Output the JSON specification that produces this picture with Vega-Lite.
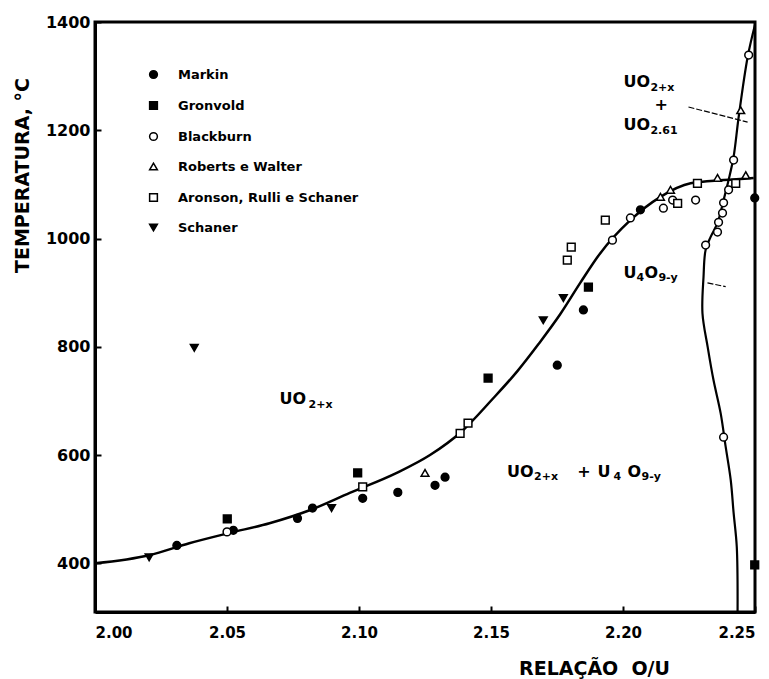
{
  "$schema": "https://vega.github.io/schema/vega-lite/v6.json",
  "width": 660,
  "height": 590,
  "autosize": {"type": "none"},
  "padding": {"left": 95, "top": 22, "right": 14, "bottom": 67},
  "background": "white",
  "config": {
    "view": {"stroke": "black", "strokeWidth": 3},
    "font": "DejaVu Sans",
    "axis": {
      "grid": false,
      "domainColor": "black",
      "domainWidth": 3,
      "tickColor": "black",
      "tickWidth": 2,
      "labelColor": "black",
      "labelFont": "DejaVu Sans",
      "labelFontWeight": "bold",
      "titleColor": "black",
      "titleFont": "DejaVu Sans",
      "titleFontWeight": "bold"
    },
    "legend": {
      "labelFont": "DejaVu Sans",
      "labelFontWeight": "bold",
      "labelColor": "black"
    }
  },
  "datasets": {
    "solvus": [
      {"x": 2.000, "y": 400},
      {"x": 2.0205, "y": 415},
      {"x": 2.0357, "y": 437},
      {"x": 2.0509, "y": 456},
      {"x": 2.0661, "y": 474},
      {"x": 2.0813, "y": 498},
      {"x": 2.0965, "y": 530},
      {"x": 2.1143, "y": 567},
      {"x": 2.1269, "y": 600},
      {"x": 2.1390, "y": 644},
      {"x": 2.1505, "y": 703},
      {"x": 2.1600, "y": 755},
      {"x": 2.1680, "y": 805},
      {"x": 2.1762, "y": 860},
      {"x": 2.1838, "y": 918},
      {"x": 2.1914, "y": 973},
      {"x": 2.2028, "y": 1034},
      {"x": 2.2142, "y": 1077},
      {"x": 2.2256, "y": 1102},
      {"x": 2.2381, "y": 1108},
      {"x": 2.2495, "y": 1112}
    ],
    "u4o9": [
      {"x": 2.2500, "y": 1395},
      {"x": 2.2472, "y": 1335},
      {"x": 2.2438, "y": 1224},
      {"x": 2.2419, "y": 1151},
      {"x": 2.2400, "y": 1108},
      {"x": 2.2381, "y": 1071},
      {"x": 2.2358, "y": 1029},
      {"x": 2.2332, "y": 1003},
      {"x": 2.2313, "y": 979},
      {"x": 2.2305, "y": 929},
      {"x": 2.2301, "y": 862},
      {"x": 2.2321, "y": 799},
      {"x": 2.2343, "y": 738},
      {"x": 2.2370, "y": 677},
      {"x": 2.2389, "y": 615},
      {"x": 2.2408, "y": 554},
      {"x": 2.2419, "y": 493},
      {"x": 2.2431, "y": 430},
      {"x": 2.2434, "y": 310}
    ],
    "guias": [
      {"linha": "a", "x": 2.2248, "y": 1243},
      {"linha": "a", "x": 2.2472, "y": 1215},
      {"linha": "b", "x": 2.2320, "y": 918},
      {"linha": "b", "x": 2.2389, "y": 911}
    ],
    "pontos": [
      {"fonte": "Markin", "x": 2.031, "y": 433},
      {"fonte": "Markin", "x": 2.0524, "y": 461},
      {"fonte": "Markin", "x": 2.0767, "y": 483},
      {"fonte": "Markin", "x": 2.0824, "y": 502},
      {"fonte": "Markin", "x": 2.1014, "y": 520},
      {"fonte": "Markin", "x": 2.1147, "y": 531},
      {"fonte": "Markin", "x": 2.1288, "y": 544},
      {"fonte": "Markin", "x": 2.1326, "y": 559},
      {"fonte": "Markin", "x": 2.1751, "y": 766},
      {"fonte": "Markin", "x": 2.1850, "y": 868},
      {"fonte": "Markin", "x": 2.2066, "y": 1053},
      {"fonte": "Markin", "x": 2.2499, "y": 1075},
      {"fonte": "Gronvold", "x": 2.0501, "y": 482},
      {"fonte": "Gronvold", "x": 2.0995, "y": 567},
      {"fonte": "Gronvold", "x": 2.1489, "y": 742},
      {"fonte": "Gronvold", "x": 2.1869, "y": 910},
      {"fonte": "Gronvold", "x": 2.2499, "y": 397},
      {"fonte": "Blackburn", "x": 2.0500, "y": 458},
      {"fonte": "Blackburn", "x": 2.1960, "y": 997},
      {"fonte": "Blackburn", "x": 2.2028, "y": 1038},
      {"fonte": "Blackburn", "x": 2.2153, "y": 1056},
      {"fonte": "Blackburn", "x": 2.2188, "y": 1071},
      {"fonte": "Blackburn", "x": 2.2275, "y": 1071},
      {"fonte": "Blackburn", "x": 2.2400, "y": 1090},
      {"fonte": "Blackburn", "x": 2.2381, "y": 1066},
      {"fonte": "Blackburn", "x": 2.2377, "y": 1047},
      {"fonte": "Blackburn", "x": 2.2362, "y": 1030},
      {"fonte": "Blackburn", "x": 2.2358, "y": 1012},
      {"fonte": "Blackburn", "x": 2.2313, "y": 988},
      {"fonte": "Blackburn", "x": 2.2419, "y": 1145},
      {"fonte": "Blackburn", "x": 2.2476, "y": 1339},
      {"fonte": "Blackburn", "x": 2.2381, "y": 633},
      {"fonte": "Roberts e Walter", "x": 2.1250, "y": 567},
      {"fonte": "Roberts e Walter", "x": 2.2142, "y": 1077},
      {"fonte": "Roberts e Walter", "x": 2.2180, "y": 1090},
      {"fonte": "Roberts e Walter", "x": 2.2358, "y": 1112},
      {"fonte": "Roberts e Walter", "x": 2.2465, "y": 1117},
      {"fonte": "Roberts e Walter", "x": 2.2446, "y": 1237},
      {"fonte": "Aronson, Rulli e Schaner", "x": 2.1014, "y": 541},
      {"fonte": "Aronson, Rulli e Schaner", "x": 2.1383, "y": 640},
      {"fonte": "Aronson, Rulli e Schaner", "x": 2.1413, "y": 659},
      {"fonte": "Aronson, Rulli e Schaner", "x": 2.1789, "y": 960},
      {"fonte": "Aronson, Rulli e Schaner", "x": 2.1804, "y": 984},
      {"fonte": "Aronson, Rulli e Schaner", "x": 2.1933, "y": 1034},
      {"fonte": "Aronson, Rulli e Schaner", "x": 2.2207, "y": 1065},
      {"fonte": "Aronson, Rulli e Schaner", "x": 2.2282, "y": 1102},
      {"fonte": "Aronson, Rulli e Schaner", "x": 2.2427, "y": 1102},
      {"fonte": "Schaner", "x": 2.0205, "y": 411},
      {"fonte": "Schaner", "x": 2.0896, "y": 502},
      {"fonte": "Schaner", "x": 2.1698, "y": 849},
      {"fonte": "Schaner", "x": 2.1774, "y": 890},
      {"fonte": "Schaner", "x": 2.0376, "y": 798}
    ],
    "rotulos": [
      {"texto": "UO", "x": 2.0699, "y": 703},
      {"texto": "UO", "x": 2.1561, "y": 568},
      {"texto": "+", "x": 2.1827, "y": 568},
      {"texto": "U", "x": 2.1903, "y": 568},
      {"texto": "O", "x": 2.2017, "y": 568},
      {"texto": "UO", "x": 2.2002, "y": 1289},
      {"texto": "+", "x": 2.2119, "y": 1246},
      {"texto": "UO", "x": 2.2002, "y": 1209},
      {"texto": "U", "x": 2.2002, "y": 936},
      {"texto": "O", "x": 2.2081, "y": 936}
    ],
    "subscritos": [
      {"texto": "2+x", "x": 2.0809, "y": 692},
      {"texto": "2+x", "x": 2.1663, "y": 559},
      {"texto": "4", "x": 2.1964, "y": 559},
      {"texto": "9-y", "x": 2.2070, "y": 559},
      {"texto": "2+x", "x": 2.2104, "y": 1278},
      {"texto": "2.61", "x": 2.2104, "y": 1198},
      {"texto": "4", "x": 2.2051, "y": 927},
      {"texto": "9-y", "x": 2.2134, "y": 927}
    ]
  },
  "encoding": {
    "x": {
      "field": "x",
      "type": "quantitative",
      "scale": {"domain": [2.0, 2.25], "nice": false, "zero": false},
      "axis": {
        "title": "RELAÇÃO\u00a0\u00a0O/U",
        "values": [2.0, 2.05, 2.1, 2.15, 2.2, 2.25],
        "format": ".2f",
        "labelFontSize": 15,
        "tickSize": -6,
        "labelPadding": 26,
        "labelBaseline": "middle",
        "labelAlign": {
          "condition": [
            {"test": "datum.value < 2.001", "value": "left"},
            {"test": "datum.value > 2.249", "value": "right"}
          ],
          "value": "center"
        },
        "titleFontSize": 19,
        "titleX": 499,
        "titleY": 56,
        "titleAlign": "center",
        "titleBaseline": "middle"
      }
    },
    "y": {
      "field": "y",
      "type": "quantitative",
      "scale": {"domain": [310, 1400], "nice": false, "zero": false},
      "axis": {
        "title": "TEMPERATURA, °C",
        "values": [400, 600, 800, 1000, 1200, 1400],
        "format": "d",
        "labelFontSize": 16,
        "tickSize": -6,
        "labelPadding": 11,
        "titleFontSize": 19,
        "titleAngle": 270,
        "titleX": -73,
        "titleY": 153,
        "titleAlign": "center",
        "titleBaseline": "middle"
      }
    }
  },
  "layer": [
    {
      "data": {"name": "solvus"},
      "mark": {"type": "line", "color": "black", "strokeWidth": 2.5, "interpolate": "monotone"}
    },
    {
      "data": {"name": "u4o9"},
      "mark": {"type": "line", "color": "black", "strokeWidth": 2.2, "interpolate": "catmull-rom"},
      "encoding": {"order": {"field": "y", "type": "quantitative"}}
    },
    {
      "data": {"name": "guias"},
      "mark": {"type": "line", "color": "black", "strokeWidth": 1.2, "strokeDash": [6, 2]},
      "encoding": {"detail": {"field": "linha", "type": "nominal"}}
    },
    {
      "data": {"name": "pontos"},
      "mark": {"type": "point", "stroke": "black", "strokeWidth": 1.5, "size": 60, "opacity": 1},
      "encoding": {
        "shape": {
          "field": "fonte",
          "type": "nominal",
          "scale": {
            "domain": ["Markin", "Gronvold", "Blackburn", "Roberts e Walter", "Aronson, Rulli e Schaner", "Schaner"],
            "range": ["circle", "square", "circle", "triangle-up", "square", "triangle-down"]
          },
          "legend": {
            "title": null,
            "orient": "none",
            "legendX": 52,
            "legendY": 46,
            "labelFontSize": 13,
            "labelLimit": 400,
            "symbolSize": 60,
            "symbolStrokeColor": "black",
            "symbolStrokeWidth": 1.5,
            "labelOffset": 18,
            "rowPadding": 16,
            "padding": 0,
            "symbolOpacity": 1,
            "encode": {"symbols": {"update": {"stroke": {"value": "black"}, "strokeWidth": {"value": 1.5}, "opacity": {"value": 1}}}}
          }
        },
        "fill": {
          "field": "fonte",
          "type": "nominal",
          "scale": {
            "domain": ["Markin", "Gronvold", "Blackburn", "Roberts e Walter", "Aronson, Rulli e Schaner", "Schaner"],
            "range": ["black", "black", "white", "white", "white", "black"]
          },
          "legend": {
            "title": null,
            "orient": "none",
            "legendX": 52,
            "legendY": 46,
            "labelFontSize": 13,
            "labelLimit": 400,
            "symbolSize": 60,
            "symbolStrokeColor": "black",
            "symbolStrokeWidth": 1.5,
            "labelOffset": 18,
            "rowPadding": 16,
            "padding": 0,
            "symbolOpacity": 1,
            "encode": {"symbols": {"update": {"stroke": {"value": "black"}, "strokeWidth": {"value": 1.5}, "opacity": {"value": 1}}}}
          }
        }
      }
    },
    {
      "data": {"name": "rotulos"},
      "mark": {"type": "text", "align": "left", "baseline": "middle", "fontSize": 16, "fontWeight": "bold", "font": "DejaVu Sans", "color": "black"},
      "encoding": {"text": {"field": "texto", "type": "nominal"}}
    },
    {
      "data": {"name": "subscritos"},
      "mark": {"type": "text", "align": "left", "baseline": "middle", "fontSize": 11, "fontWeight": "bold", "font": "DejaVu Sans", "color": "black"},
      "encoding": {"text": {"field": "texto", "type": "nominal"}}
    }
  ]
}
